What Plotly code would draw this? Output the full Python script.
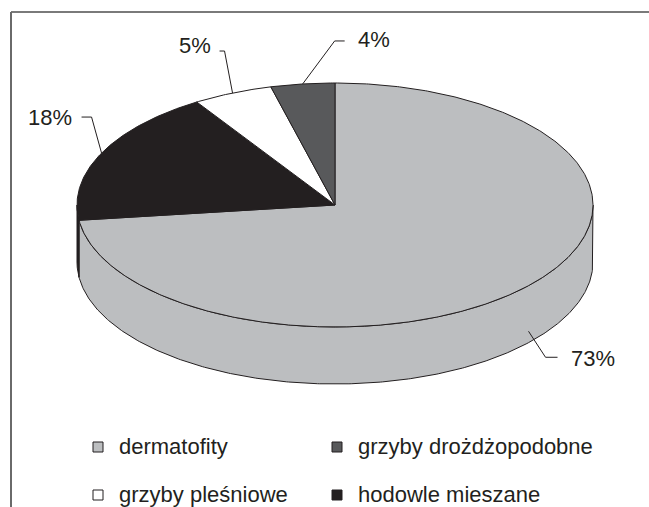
import numpy as np
import plotly.graph_objects as go

# ---- data (clockwise from 12 o'clock) ----
CATEGORIES = ["dermatofity", "hodowle mieszane", "grzyby pleśniowe", "grzyby drożdżopodobne"]
VALUES = [73, 18, 5, 4]
COLORS = ["#bcbec0", "#231f20", "#ffffff", "#58595b"]
LEGEND_ORDER = ["dermatofity", "grzyby drożdżopodobne", "grzyby pleśniowe", "hodowle mieszane"]
LABELS = [f"{v}%" for v in VALUES]

# ---- layout / geometry (pixels) ----
W, H = 649, 507
CX, CY, RX, RY, DEPTH = 335, 205, 258, 122, 57
START = 90.0
OUTLINE = "#231f20"
# leader style per label: elbow offset from slice anchor (dx, dy), tick length (signed), text gap, text y-shift
LABEL_STYLE = {
    "dermatofity": (17, 26, 12, 11, 1),
    "hodowle mieszane": (-10, -36, -10, 8, 0),
    "grzyby pleśniowe": (-8, -42, -5, 7, -6),
    "grzyby drożdżopodobne": (32, -43, 10, 11, -1),
}

def pt(t, dy=0.0):
    r = np.radians(t)
    return CX + RX * np.cos(r), CY - RY * np.sin(r) + dy

def arc(a, b, dy=0.0, n=None):
    n = n or max(2, int(abs(b - a) * 2) + 2)
    ts = np.linspace(a, b, n)
    xs, ys = pt(ts, dy)
    return list(xs), list(ys)

fig = go.Figure()

total = float(sum(VALUES))
slices = []
cum = START
for name, v, c in zip(CATEGORIES, VALUES, COLORS):
    t1 = cum
    t2 = cum - v / total * 360.0
    slices.append((name, v, c, t1, t2))
    cum = t2

# sides (front half only)
front_ranges = [(-540, -360), (-180, 0), (180, 360)]
for name, v, c, t1, t2 in slices:
    for lo, hi in front_ranges:
        a, b = max(t2, lo), min(t1, hi)
        if b - a > 0.01:
            xs1, ys1 = arc(a, b)
            xs2, ys2 = arc(b, a, DEPTH)
            fig.add_trace(go.Scatter(
                x=xs1 + xs2 + [xs1[0]], y=ys1 + ys2 + [ys1[0]],
                mode="lines", fill="toself", fillcolor=c,
                line=dict(color=OUTLINE, width=1), hoverinfo="skip", showlegend=False))

# tops
for name, v, c, t1, t2 in slices:
    xs, ys = arc(t1, t2)
    fig.add_trace(go.Scatter(
        x=[CX] + xs + [CX], y=[CY] + ys + [CY],
        mode="lines", fill="toself", fillcolor=c,
        line=dict(color=OUTLINE, width=1), hoverinfo="skip", showlegend=False,
        name=name))

# labels with leader lines
annotations = []
for (name, v, c, t1, t2), lab in zip(slices, LABELS):
    m = (t1 + t2) / 2.0
    if np.sin(np.radians(m)) < 0:
        ax, ay = pt(m, 0.8 * DEPTH)
    else:
        ax, ay = pt(m)
    dx, dy, tick, gap, ty = LABEL_STYLE[name]
    ex, ey = ax + dx, ay + dy
    hx = ex + tick
    fig.add_trace(go.Scatter(x=[ax, ex, hx], y=[ay, ey, ey], mode="lines",
                             line=dict(color=OUTLINE, width=1),
                             hoverinfo="skip", showlegend=False))
    sgn = 1 if tick > 0 else -1
    annotations.append(dict(
        x=hx + gap * sgn, y=ey + ty, text=lab, showarrow=False,
        xanchor="left" if sgn > 0 else "right", yanchor="middle",
        font=dict(family="Liberation Sans, Arial", size=22, color=OUTLINE)))

# legend (manual, 2 columns)
LEG_X = [98, 337]
LEG_Y = [447, 495]
color_of = dict(zip(CATEGORIES, COLORS))
for i, name in enumerate(LEGEND_ORDER):
    lx, ly = LEG_X[i % 2], LEG_Y[i // 2]
    fig.add_trace(go.Scatter(x=[lx], y=[ly], mode="markers",
                             marker=dict(symbol="square", size=10, color=color_of[name],
                                         line=dict(color=OUTLINE, width=1)),
                             hoverinfo="skip", showlegend=False))
    annotations.append(dict(
        x=lx + 19, y=ly - 1, text=name, showarrow=False, xanchor="left", yanchor="middle",
        font=dict(family="Liberation Sans, Arial", size=22, color=OUTLINE)))

shapes = [
    dict(type="line", x0=11, y0=12, x1=W, y1=12, line=dict(color="#7a7a7a", width=2)),
    dict(type="line", x0=11, y0=12, x1=11, y1=H, line=dict(color="#6a6a6a", width=2)),
]

fig.update_layout(
    width=W, height=H, margin=dict(l=0, r=0, t=0, b=0),
    paper_bgcolor="white", plot_bgcolor="white",
    xaxis=dict(range=[0, W], visible=False, fixedrange=True),
    yaxis=dict(range=[H, 0], visible=False, fixedrange=True),
    annotations=annotations, shapes=shapes, showlegend=False,
)

fig.write_html("out.html")
